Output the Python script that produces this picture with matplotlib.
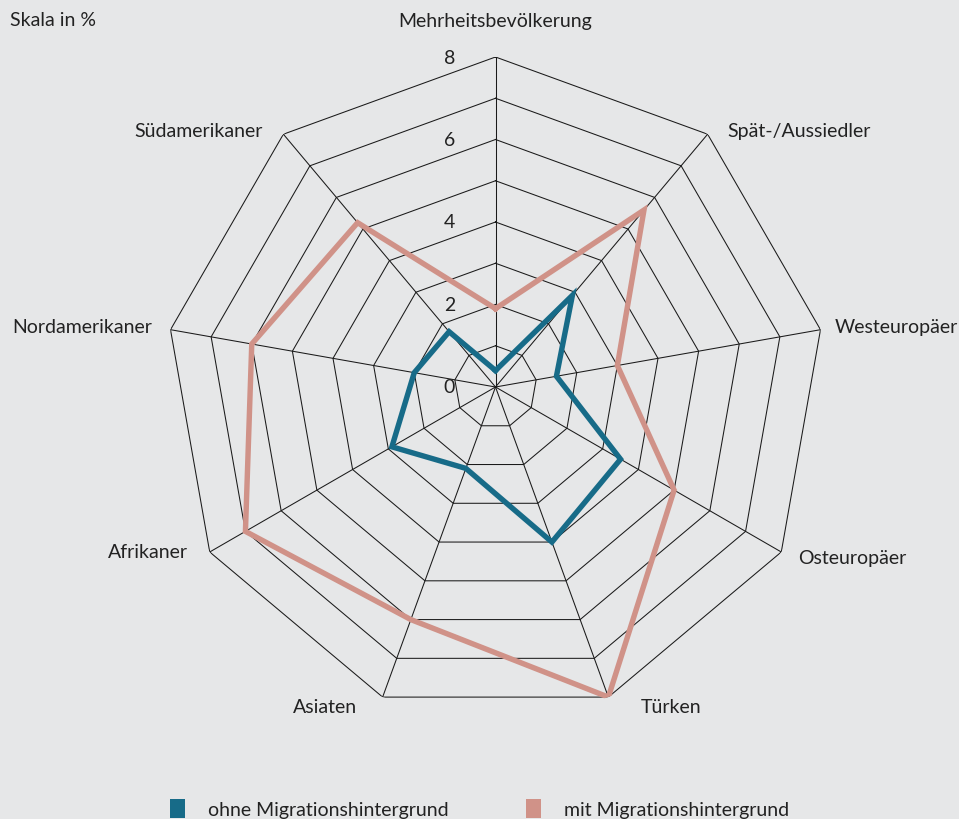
import numpy as np
import matplotlib
matplotlib.use("Agg")
from matplotlib import pyplot as plt
from matplotlib.patches import Patch

# Daten (Skala in %)
categories = ["Mehrheitsbevölkerung", "Spät-/Aussiedler", "Westeuropäer", "Osteuropäer",
              "Türken", "Asiaten", "Afrikaner", "Nordamerikaner", "Südamerikaner"]
ohne_mh = [0.4, 2.9, 1.5, 3.5, 4.0, 2.1, 2.9, 2.0, 1.75]
mit_mh = [1.9, 5.6, 3.0, 5.0, 8.0, 6.0, 7.0, 6.0, 5.2]
ring_values = [1, 2, 3, 4, 5, 6, 7, 8]
tick_values = [0, 2, 4, 6, 8]
series_labels = ["ohne Migrationshintergrund", "mit Migrationshintergrund"]

bg = "#e6e7e8"
blue = "#176b88"
pink = "#d09288"
grid_col = "#1a1a1a"

plt.rcParams["font.family"] = ["Lato", "DejaVu Sans"]
plt.rcParams["text.color"] = "#222222"

fig = plt.figure(figsize=(9.59, 8.2), dpi=100, facecolor=bg)
# centre ~ (495.5, 388) px, radius ~330 px
cx, cy, R = 495.5, 388, 330
W, H = 959, 820
ax = fig.add_axes([(cx - R) / W, (H - cy - R) / H, 2 * R / W, 2 * R / H], projection="polar")
ax.patch.set_alpha(0)
ax.set_theta_zero_location("N")
ax.set_theta_direction(-1)
ax.set_ylim(0, 8)
ax.grid(False)
ax.spines["polar"].set_visible(False)
ax.set_xticks([])
ax.set_yticks([])

n = len(categories)
theta = np.arange(n) * 2 * np.pi / n
theta_c = np.append(theta, theta[0])

# Netz
for r in ring_values:
    ax.plot(theta_c, [r] * (n + 1), color=grid_col, lw=0.75, zorder=1)
for t in theta:
    ax.plot([t, t], [0, ring_values[-1]], color=grid_col, lw=0.75, zorder=1)

# Serien
ax.plot(theta_c, mit_mh + mit_mh[:1], color=pink, lw=3.9, solid_joinstyle="miter", zorder=3)
ax.plot(theta_c, ohne_mh + ohne_mh[:1], color=blue, lw=3.9, solid_joinstyle="miter", zorder=4)

# Skalenbeschriftung
for v in tick_values:
    ax.annotate(str(v), xy=(0, v), xytext=(-46, 0), textcoords="offset pixels",
                ha="center", va="center", fontsize=14, annotation_clip=False)

# Kategorien
offsets = [(0, 36, "center"), (20, 4, "left"), (14, 3, "left"), (17, -6, "left"),
           (32, -9, "left"), (-26, -9, "right"), (-22, 1, "right"), (-18, 3, "right"),
           (-21, 4, "right")]
for t, lab, (dx, dy, ha) in zip(theta, categories, offsets):
    ax.annotate(lab, xy=(t, 8), xytext=(dx, dy), textcoords="offset pixels",
                ha=ha, va="center", fontsize=14, annotation_clip=False)

fig.text(10 / W, 1 - 20 / H, "Skala in %", ha="left", va="center", fontsize=14)

handles = [Patch(facecolor=blue), Patch(facecolor=pink)]
fig.legend(handles, series_labels, ncol=2, loc="upper left",
           bbox_to_anchor=(170 / W, 1 - 800 / H), frameon=False, fontsize=14,
           handlelength=0.75, handleheight=1.1, handletextpad=1.2, columnspacing=4.0,
           borderaxespad=0, borderpad=0)

fig.savefig("out.png", dpi=100, facecolor=bg)
